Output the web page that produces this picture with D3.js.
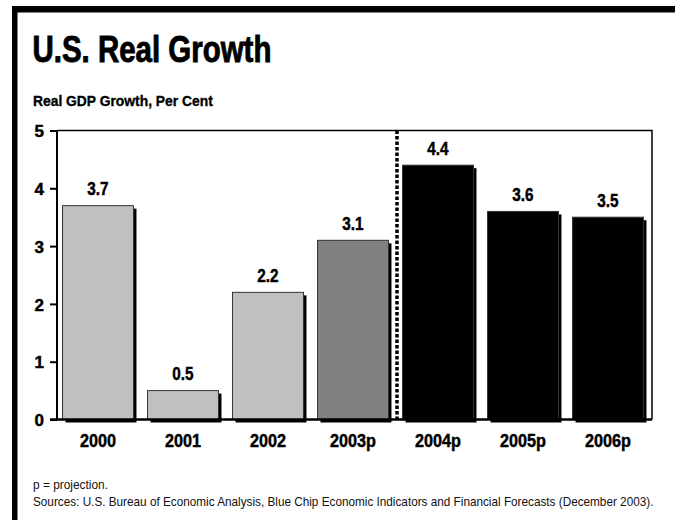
<!DOCTYPE html>
<html>
<head>
<meta charset="utf-8">
<script src="https://cdn.jsdelivr.net/npm/d3@7"></script>
<style>
  html, body { margin: 0; padding: 0; background: #fff; }
  svg { display: block; }
  svg text { font-family: "Liberation Sans", Arial, Helvetica, sans-serif; }
</style>
</head>
<body>
<script>
// Real GDP growth, per cent (p = projection)
const years  = ["2000", "2001", "2002", "2003p", "2004p", "2005p", "2006p"];
const growth = [3.7, 0.5, 2.2, 3.1, 4.4, 3.6, 3.5];
const fills  = ["#c0c0c0", "#c0c0c0", "#c0c0c0", "#808080", "#000000", "#000000", "#000000"];
const yTicks = [0, 1, 2, 3, 4, 5];

const W = 675, H = 520;
const svg = d3.select("body").append("svg").attr("width", W).attr("height", H);

// narrow each label horizontally about its anchor, condensed-face style
function squeeze(sel, factor) {
  sel.each(function () {
    const len = this.getComputedTextLength();
    d3.select(this).attr("textLength", len * factor).attr("lengthAdjust", "spacingAndGlyphs");
  });
}

// place a left-aligned line of text so that it spans a given width
function fitText(txt, x0, y0, width, size, weight) {
  const t = svg.append("text").attr("x", 0).attr("y", 0)
    .attr("font-size", size).attr("font-weight", weight || "normal").attr("fill", "#000")
    .text(txt);
  const k = width / t.node().getComputedTextLength();
  t.attr("transform", `translate(${x0},${y0}) scale(${k},1)`);
  return t;
}

// frame: heavy rule across the top and down the left
svg.append("rect").attr("x", 12).attr("y", 6).attr("width", W - 12).attr("height", 6.5).attr("fill", "#000");
svg.append("rect").attr("x", 12).attr("y", 6).attr("width", 5.5).attr("height", H - 6).attr("fill", "#000");

fitText("U.S. Real Growth", 32.5, 62, 239, 36, "bold")
  .attr("stroke", "#000").attr("stroke-width", 0.9);

fitText("Real GDP Growth, Per Cent", 33, 105.5, 180, 15.5, "bold")
  .attr("stroke", "#000").attr("stroke-width", 0.35);

const plotL = 57, plotR = 652, plotT = 130.5, plotB = 419.5;

const x = d3.scaleBand().domain(years).range([plotL, plotR])
  .paddingInner(0.13).paddingOuter(0.065);
const y = d3.scaleLinear().domain([0, 5]).range([plotB, plotT]);

const shadow = 3;
const bw = x.bandwidth() - shadow;

const g = svg.append("g");

// drop shadows
g.selectAll("rect.shadow").data(years).join("rect")
  .attr("class", "shadow")
  .attr("x", d => x(d) + shadow)
  .attr("y", (d, i) => y(growth[i]) + shadow)
  .attr("width", bw)
  .attr("height", (d, i) => plotB - y(growth[i]))
  .attr("fill", "#000");

// bars
g.selectAll("rect.bar").data(years).join("rect")
  .attr("class", "bar")
  .attr("x", d => x(d))
  .attr("y", (d, i) => y(growth[i]))
  .attr("width", bw)
  .attr("height", (d, i) => plotB - y(growth[i]))
  .attr("fill", (d, i) => fills[i])
  .attr("stroke", "#333").attr("stroke-width", 1);

// value labels
const vals = g.selectAll("text.val").data(years).join("text")
  .attr("class", "val")
  .attr("x", d => x(d) + bw / 2)
  .attr("y", (d, i) => y(growth[i]) - 10.5)
  .attr("text-anchor", "middle")
  .attr("font-size", 18).attr("font-weight", "bold")
  .attr("stroke", "#000").attr("stroke-width", 0.45)
  .text((d, i) => growth[i].toFixed(1));
squeeze(vals, 0.85);

// dotted divider between estimate and forecast years
const divX = (x("2003p") + x.bandwidth() + x("2004p")) / 2;
svg.append("line")
  .attr("x1", divX).attr("x2", divX).attr("y1", plotT).attr("y2", plotB)
  .attr("stroke", "#000").attr("stroke-width", 3.5).attr("stroke-dasharray", "3.5,2");

// plot frame (top and right)
svg.append("path")
  .attr("d", `M${plotL},${plotT}H${plotR}V${plotB}`)
  .attr("fill", "none").attr("stroke", "#000").attr("stroke-width", 1.5);

// y axis
const yAxis = d3.axisLeft(y).tickValues(yTicks).tickSize(7).tickPadding(6).tickFormat(d3.format("d"));
const ya = svg.append("g").attr("transform", `translate(${plotL},0)`).call(yAxis);
ya.attr("font-family", null).attr("font-size", null);
ya.select(".domain").attr("stroke", "#000").attr("stroke-width", 2).attr("d", `M0,${plotT}V${plotB}`);
ya.selectAll(".tick line").attr("stroke", "#000").attr("stroke-width", 2);
ya.selectAll(".tick text").attr("font-size", 17).attr("font-weight", "bold").attr("fill", "#000")
  .attr("stroke", "#000").attr("stroke-width", 0.45).attr("dy", "0.36em");

// x axis
const xAxis = d3.axisBottom(x).tickSize(0).tickPadding(15);
const xa = svg.append("g").attr("transform", `translate(0,${plotB})`).call(xAxis);
xa.attr("font-family", null).attr("font-size", null);
xa.select(".domain").attr("stroke", "#000").attr("stroke-width", 2.5).attr("d", `M${plotL - 7},0H${plotR}`);
xa.selectAll(".tick").attr("transform", d => `translate(${x(d) + bw / 2},0)`);
const xt = xa.selectAll(".tick text").attr("font-size", 18).attr("font-weight", "bold").attr("fill", "#000")
  .attr("stroke", "#000").attr("stroke-width", 0.45);
squeeze(xt, 0.9);

// notes
fitText("p = projection.", 33, 489, 75, 12.5).attr("fill", "#111");
fitText("Sources:  U.S. Bureau of Economic Analysis, Blue Chip Economic Indicators and Financial Forecasts (December 2003).",
  33, 506, 621, 12.5).attr("fill", "#111");
</script>
</body>
</html>
